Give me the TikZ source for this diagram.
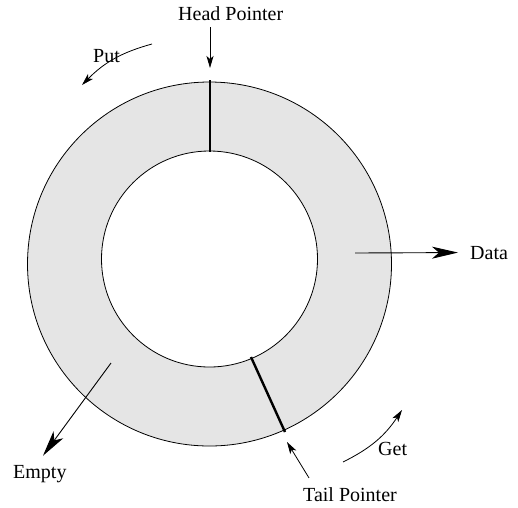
\documentclass[tikz,border=0pt]{standalone}
\usepackage{fontspec}
\setmainfont{Liberation Serif}
\usetikzlibrary{arrows.meta}
\definecolor{ringgray}{RGB}{229,229,229}

\begin{document}
\begin{tikzpicture}[x=1pt,y=-1pt,
    tag/.style={font=\fontsize{20}{24}\selectfont, anchor=base west},
    ptr/.style={-{Stealth[length=12pt,width=7pt,inset=3pt]}, line width=0.8pt},
    bigptr/.style={-{Stealth[length=26pt,width=12pt,inset=7pt]}, line width=0.9pt},
    cutline/.style={line width=2.4pt}]
      \tikzstyle{every node}+=[inner sep=0pt]
      \useasboundingbox (0,0) rectangle (518,507);
      % ring buffer
      \filldraw [fill=ringgray, draw=black, line width=0.8pt] (209.5,264) circle (182pt);
      \filldraw [fill=white, draw=black, line width=0.8pt] (209.5,259) circle (108pt);
      \coordinate (h1) at (210,80);
      \coordinate (h2) at (210,152);
      \draw [cutline] (h1) -- (h2);
      \coordinate (t1) at (251,357);
      \coordinate (t2) at (285,432);
      \draw [cutline] (t1) -- (t2);
      % labels
      \node [tag] (head) at (178,20) {Head Pointer};
      \node [tag] (tail) at (303,501) {Tail Pointer};
      \node [tag] (data) at (470,259) {Data};
      \node [tag] (empty) at (13,478) {Empty};
      \node [tag] (put) at (93,62) {Put};
      \node [tag] (get) at (378,455) {Get};
      % pointers
      \coordinate (headtip) at (210,68);
      \draw [ptr] (head.south -| headtip) ++(0,7) -- (headtip);
      \coordinate (tailtip) at (287,442);
      \draw [ptr] (tail.north west) ++(6,-9) -- (tailtip);
      \coordinate (datafrom) at (355,253);
      \draw [bigptr] (datafrom) -- ([xshift=-12pt]data.west);
      \coordinate (emptyfrom) at (111,363);
      \draw [bigptr] (emptyfrom) -- ([shift={(30pt,9pt)}]empty.north west);
      % direction of put and get
      \coordinate (putfrom) at (152,44);
      \coordinate (puttip) at (82,85);
      \draw [ptr] (putfrom) to [bend right=15] (puttip);
      \coordinate (getfrom) at (343,462);
      \coordinate (gettip) at (402,410);
      \draw [ptr] (getfrom) to [bend right=15] (gettip);
\end{tikzpicture}
\end{document}
